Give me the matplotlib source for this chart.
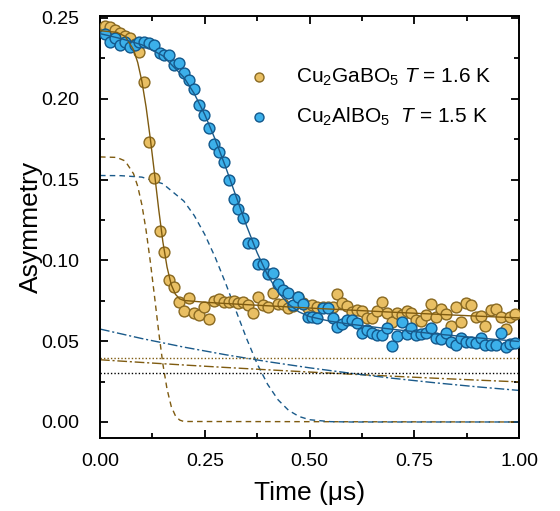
import matplotlib
matplotlib.use("Agg")
import matplotlib.pyplot as plt
from matplotlib.ticker import MultipleLocator

plt.rcParams['font.family'] = ['Liberation Sans', 'DejaVu Sans']
plt.rcParams['mathtext.fontset'] = 'custom'
plt.rcParams['mathtext.rm'] = 'Liberation Sans'
plt.rcParams['mathtext.it'] = 'Liberation Sans:italic'

# ---- data ----
time_us = [0.012, 0.024, 0.035, 0.047, 0.059, 0.071, 0.083, 0.094, 0.106, 0.118,
           0.130, 0.142, 0.153, 0.165, 0.177, 0.189, 0.201, 0.212, 0.224, 0.236,
           0.248, 0.260, 0.271, 0.283, 0.295, 0.307, 0.319, 0.330, 0.342, 0.354,
           0.366, 0.378, 0.389, 0.401, 0.413, 0.425, 0.437, 0.448, 0.460, 0.472,
           0.484, 0.496, 0.507, 0.519, 0.531, 0.543, 0.555, 0.566, 0.578, 0.590,
           0.602, 0.614, 0.625, 0.637, 0.649, 0.661, 0.673, 0.684, 0.696, 0.708,
           0.720, 0.732, 0.743, 0.755, 0.767, 0.779, 0.791, 0.802, 0.814, 0.826,
           0.838, 0.850, 0.861, 0.873, 0.885, 0.897, 0.909, 0.920, 0.932, 0.944,
           0.956, 0.968, 0.979, 0.991]

ga_asym = [0.2450, 0.2445, 0.2425, 0.2405, 0.2390, 0.2375, 0.2340, 0.2290, 0.2105, 0.1735,
           0.1510, 0.1180, 0.1050, 0.0880, 0.0835, 0.0740, 0.0687, 0.0767, 0.0674, 0.0662,
           0.0712, 0.0637, 0.0749, 0.0761, 0.0743, 0.0743, 0.0749, 0.0736, 0.0740, 0.0724,
           0.0674, 0.0773, 0.0724, 0.0712, 0.0798, 0.0730, 0.0730, 0.0705, 0.0718, 0.0773,
           0.0736, 0.0705, 0.0724, 0.0712, 0.0712, 0.0712, 0.0712, 0.0792, 0.0736, 0.0718,
           0.0680, 0.0693, 0.0687, 0.0643, 0.0643, 0.0687, 0.0743, 0.0674, 0.0619, 0.0674,
           0.0662, 0.0687, 0.0674, 0.0631, 0.0625, 0.0662, 0.0730, 0.0650, 0.0699, 0.0668,
           0.0594, 0.0712, 0.0619, 0.0736, 0.0724, 0.0650, 0.0655, 0.0594, 0.0693, 0.0699,
           0.0650, 0.0576, 0.0650, 0.0668]
ga_err = 0.0025

al_asym = [0.2400, 0.2353, 0.2374, 0.2333, 0.2353, 0.2322, 0.2333, 0.2353, 0.2350, 0.2343,
           0.2333, 0.2285, 0.2271, 0.2271, 0.2209, 0.2223, 0.2162, 0.2116, 0.2058, 0.1962,
           0.1900, 0.1821, 0.1720, 0.1673, 0.1607, 0.1500, 0.1380, 0.1320, 0.1260, 0.1110,
           0.1110, 0.0980, 0.0980, 0.0916, 0.0920, 0.0854, 0.0817, 0.0798, 0.0724, 0.0774,
           0.0730, 0.0650, 0.0650, 0.0644, 0.0705, 0.0705, 0.0644, 0.0588, 0.0606, 0.0630,
           0.0630, 0.0613, 0.0551, 0.0569, 0.0551, 0.0538, 0.0538, 0.0580, 0.0470, 0.0532,
           0.0619, 0.0545, 0.0580, 0.0538, 0.0545, 0.0551, 0.0580, 0.0520, 0.0514, 0.0551,
           0.0495, 0.0476, 0.0520, 0.0495, 0.0495, 0.0489, 0.0520, 0.0476, 0.0476, 0.0476,
           0.0551, 0.0464, 0.0483, 0.0489]
al_err = 0.0018

# fit curves
ga_fit_t = [0, 0.04, 0.06, 0.08, 0.09, 0.10, 0.11, 0.12, 0.13, 0.14, 0.15, 0.16, 0.17,
            0.18, 0.19, 0.20, 0.25, 0.3, 0.4, 0.5, 0.6, 0.7, 0.8, 0.9, 1.0]
ga_fit = [0.2421, 0.2411, 0.2386, 0.2304, 0.2224, 0.2107, 0.1948, 0.1754, 0.1539, 0.1317,
          0.1115, 0.0958, 0.0849, 0.0790, 0.0762, 0.0752, 0.0741, 0.0733, 0.0719, 0.0705,
          0.0692, 0.0679, 0.0667, 0.0655, 0.0644]
ga_fast_t = [0, 0.04, 0.06, 0.08, 0.09, 0.10, 0.11, 0.12, 0.13, 0.14, 0.15, 0.16, 0.17,
             0.18, 0.19, 0.20, 1.0]
ga_fast = [0.164, 0.1637, 0.1615, 0.1536, 0.1458, 0.1343, 0.1185, 0.0993, 0.0779, 0.0559,
           0.0359, 0.0203, 0.0096, 0.0038, 0.0012, 0.0003, 0.0]
ga_slow_t = [0, 0.1, 0.2, 0.3, 0.4, 0.5, 0.6, 0.7, 0.8, 0.9, 1.0]
ga_slow = [0.0385, 0.03684, 0.03526, 0.03373, 0.03229, 0.0309, 0.02957, 0.02829,
           0.02708, 0.02591, 0.0248]
ga_bg = 0.0396

al_fit_t = [0, 0.05, 0.1, 0.15, 0.2, 0.225, 0.25, 0.275, 0.3, 0.325, 0.35, 0.375, 0.4,
            0.425, 0.45, 0.475, 0.5, 0.55, 0.6, 0.7, 0.8, 0.9, 1.0]
al_fit = [0.2403, 0.2372, 0.2334, 0.2266, 0.2133, 0.2031, 0.1902, 0.1748, 0.1576, 0.1393,
          0.1212, 0.1047, 0.0909, 0.0803, 0.0729, 0.0681, 0.0652, 0.0623, 0.0604, 0.0573,
          0.0545, 0.0521, 0.0498]
al_fast_t = [0, 0.05, 0.1, 0.15, 0.2, 0.225, 0.25, 0.275, 0.3, 0.325, 0.35, 0.375, 0.4,
             0.425, 0.45, 0.475, 0.5, 0.55, 0.6, 1.0]
al_fast = [0.1525, 0.1524, 0.1515, 0.1474, 0.1367, 0.1277, 0.1160, 0.1018, 0.0857, 0.0685,
           0.0515, 0.0360, 0.0233, 0.0137, 0.0072, 0.0034, 0.0014, 0.0002, 0.0, 0.0]
al_slow_t = [0, 0.1, 0.2, 0.3, 0.4, 0.5, 0.6, 0.7, 0.8, 0.9, 1.0]
al_slow = [0.0575, 0.05161, 0.04633, 0.04159, 0.03733, 0.03351, 0.03008, 0.027,
           0.02424, 0.02175, 0.01953]
al_bg = 0.0303

ga_label = r"Cu$_2$GaBO$_5$ $T$ = 1.6 K"
al_label = r"Cu$_2$AlBO$_5$  $T$ = 1.5 K"

# ---- styles ----
ga_face, ga_edge, ga_line = '#E9BF63', '#8A6A22', '#7F5B10'
al_face, al_edge, al_line = '#3CB0EA', '#12588C', '#1A5A8A'

fig = plt.figure(figsize=(5.6, 5.11), dpi=100)
ax = fig.add_axes([0.1786, 0.1429, 0.7482, 0.8258])

ax.errorbar(time_us, ga_asym, yerr=ga_err, fmt='o', ms=7.8, mfc=ga_face, mec=ga_edge,
            mew=1.0, ecolor=ga_edge, elinewidth=0.9, capsize=3, capthick=0.9, zorder=3)
ax.errorbar(time_us, al_asym, yerr=al_err, fmt='o', ms=7.8, mfc=al_face, mec=al_edge,
            mew=1.0, ecolor=al_edge, elinewidth=0.9, capsize=3, capthick=0.9, zorder=4)

ax.plot(ga_fit_t, ga_fit, '-', color=ga_line, lw=1.0, zorder=5)
ax.plot(al_fit_t, al_fit, '-', color=al_line, lw=1.0, zorder=5)

ax.plot(ga_fast_t, ga_fast, color=ga_line, lw=1.0, dashes=(4, 3), zorder=2)
ax.plot(al_fast_t, al_fast, color=al_line, lw=1.0, dashes=(4, 3), zorder=2)
ax.plot(ga_slow_t, ga_slow, color=ga_line, lw=1.0, dashes=(7, 2, 1.5, 2), zorder=2)
ax.plot(al_slow_t, al_slow, color=al_line, lw=1.0, dashes=(7, 2, 1.5, 2), zorder=2)
ax.axhline(ga_bg, color=ga_line, lw=1.0, dashes=(1, 1.5), zorder=2)
ax.axhline(al_bg, color='black', lw=1.0, dashes=(1, 1.5), zorder=2)

# legend
h1 = ax.scatter([], [], s=42, c=ga_face, edgecolors=ga_edge, linewidths=1.0)
h2 = ax.scatter([], [], s=42, c=al_face, edgecolors=al_edge, linewidths=1.0)
ax.legend([h1, h2], [ga_label, al_label], loc='upper left', bbox_to_anchor=(0.31, 0.90),
          frameon=False, fontsize=15, handletextpad=0.78, labelspacing=0.85,
          borderaxespad=0)

ax.set_xlim(0, 1.0)
ax.set_ylim(-0.0099, 0.2512)
ax.xaxis.set_major_locator(MultipleLocator(0.25))
ax.xaxis.set_minor_locator(MultipleLocator(0.125))
ax.yaxis.set_major_locator(MultipleLocator(0.05))
ax.yaxis.set_minor_locator(MultipleLocator(0.025))
ax.xaxis.set_major_formatter(plt.FormatStrFormatter('%.2f'))
ax.yaxis.set_major_formatter(plt.FormatStrFormatter('%.2f'))
ax.tick_params(which='both', direction='in', top=True, right=True, width=1.3,
               labelsize=14)
ax.tick_params(axis='x', which='major', pad=11)
ax.tick_params(axis='y', which='major', pad=15)
ax.tick_params(which='major', length=6)
ax.tick_params(which='minor', length=3.5)
for s in ax.spines.values():
    s.set_linewidth(1.4)

ax.set_xlabel('Time (μs)', fontsize=19, labelpad=8)
ax.set_ylabel('Asymmetry', fontsize=19, labelpad=-1)

fig.savefig('out.png', dpi=100)
